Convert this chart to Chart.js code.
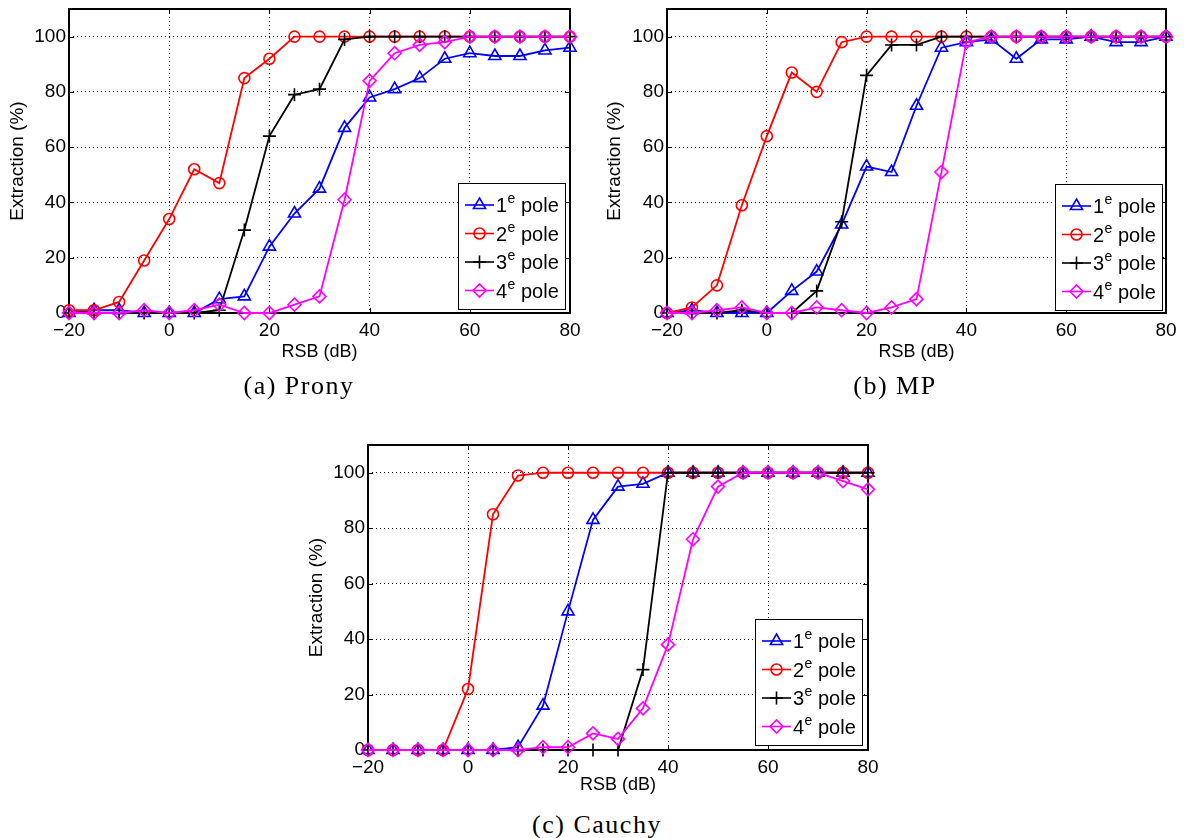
<!DOCTYPE html>
<html><head><meta charset="utf-8">
<script src="https://cdn.jsdelivr.net/npm/chart.js@4.4.0/dist/chart.umd.min.js"></script>
<style>
body{margin:0;background:#fff;width:1188px;height:838px;position:relative;overflow:hidden;font-family:"Liberation Sans",Arial,sans-serif;}
.box{position:absolute;width:590px;height:372px;}
.cap{position:absolute;font-family:"Liberation Serif",serif;font-size:26px;letter-spacing:1.5px;line-height:30px;transform:translateX(-50%);white-space:nowrap;color:#000;}
</style></head><body>
<div class="box" style="left:0;top:0"><canvas id="ca"></canvas></div>
<div class="box" style="left:597px;top:0"><canvas id="cb"></canvas></div>
<div class="box" style="left:299px;top:436px"><canvas id="cc"></canvas></div>
<div class="cap" style="left:299px;top:371px">(a) Prony</div>
<div class="cap" style="left:895px;top:371px">(b) MP</div>
<div class="cap" style="left:597px;top:810px">(c) Cauchy</div>
<script>
// ---- data ----
const rsb = [-20,-15,-10,-5,0,5,10,15,20,25,30,35,40,45,50,55,60,65,70,75,80];
const xTicks = [-20,0,20,40,60,80];
const yTicks = [0,20,40,60,80,100];
const ordinals = ['1','2','3','4'];
const supText = 'e';
const suffixText = ' pole';
const xTitle = 'RSB (dB)';
const yTitle = 'Extraction (%)';

const pronyPole1 = [0,1,1,0,0,0,5,6,24,36,45,67,78,81,85,92,94,93,93,95,96];
const pronyPole2 = [1,1,4,19,34,52,47,85,92,100,100,100,100,100,100,100,100,100,100,100,100];
const pronyPole3 = [0,0,0,0,0,0,1,30,64,79,81,99,100,100,100,100,100,100,100,100,100];
const pronyPole4 = [0,0,0,1,0,1,3,0,0,3,6,41,84,94,97,98,100,100,100,100,100];

const mpPole1 = [0,1,0,0,0,8,15,32,53,51,75,96,98,99,92,99,99,100,98,98,100];
const mpPole2 = [0,2,10,39,64,87,80,98,100,100,100,100,100,100,100,100,100,100,100,100,100];
const mpPole3 = [0,0,0,1,0,0,8,33,86,97,97,100,100,100,100,100,100,100,100,100,100];
const mpPole4 = [0,0,1,2,0,0,2,1,0,2,5,51,98,100,100,100,100,100,100,100,100];

const cauchyPole1 = [0,0,0,0,0,0,1,16,50,83,95,96,100,100,100,100,100,100,100,100,100];
const cauchyPole2 = [0,0,0,0,22,85,99,100,100,100,100,100,100,100,100,100,100,100,100,100,100];
const cauchyPole3 = [0,0,0,0,0,0,0,0,0,0,0,29,100,100,100,100,100,100,100,100,100];
const cauchyPole4 = [0,0,0,0,0,0,0,1,1,6,4,15,38,76,95,100,100,100,100,97,94];

// ---- styles ----
const colors = ['#0000ff','#ff0000','#000000','#ff00ff'];
const styles = ['triangle','circle','cross','rectRot'];
const radii = [7,5.5,6.5,6.5];

Chart.defaults.font.family = '"Liberation Sans", Arial, sans-serif';
Chart.defaults.font.size = 19;
Chart.defaults.color = '#000';

const axesPlugin = {
  id: 'matlabAxes',
  beforeDatasetsDraw(chart) {
    const {ctx, chartArea: ca, scales} = chart;
    ctx.save();
    ctx.strokeStyle = '#000';
    ctx.lineWidth = 1;
    ctx.beginPath();
    xTicks.forEach(v => {
      const x = Math.round(scales.x.getPixelForValue(v)) + 0.5;
      ctx.moveTo(x, ca.bottom); ctx.lineTo(x, ca.bottom - 5);
      ctx.moveTo(x, ca.top); ctx.lineTo(x, ca.top + 5);
    });
    yTicks.forEach(v => {
      const y = Math.round(scales.y.getPixelForValue(v)) + 0.5;
      ctx.moveTo(ca.left, y); ctx.lineTo(ca.left + 5, y);
      ctx.moveTo(ca.right, y); ctx.lineTo(ca.right - 5, y);
    });
    ctx.stroke();
    ctx.lineWidth = 2;
    ctx.strokeRect(ca.left, ca.top, ca.right - ca.left, ca.bottom - ca.top);
    ctx.restore();
  },
  afterDatasetsDraw(chart, args, opts) {
    const {ctx, chartArea: ca} = chart;
    const w = 107, h = 126;
    const x0 = Math.round(ca.right - opts.dr - w), y0 = Math.round(ca.bottom - opts.db - h);
    ctx.save();
    ctx.fillStyle = '#fff';
    ctx.fillRect(x0, y0, w, h);
    ctx.strokeStyle = '#000';
    ctx.lineWidth = 1;
    ctx.strokeRect(x0 + 0.5, y0 + 0.5, w, h);
    chart.data.datasets.forEach((ds, i) => {
      const cy = y0 + 22 + i * 28.5;
      ctx.strokeStyle = ds.borderColor;
      ctx.lineWidth = 1.6;
      ctx.beginPath(); ctx.moveTo(x0 + 7, cy); ctx.lineTo(x0 + 36, cy); ctx.stroke();
      ctx.fillStyle = 'rgba(0,0,0,0)';
      Chart.helpers.drawPoint(ctx, {pointStyle: ds.pointStyle, rotation: 0, radius: ds.pointRadius, borderWidth: 1.6}, x0 + 21.5, cy);
      ctx.fillStyle = '#000';
      ctx.textBaseline = 'alphabetic';
      ctx.textAlign = 'left';
      ctx.font = '20px "Liberation Sans", Arial, sans-serif';
      let tx = x0 + 38;
      ctx.fillText(ordinals[i], tx, cy + 7);
      tx += ctx.measureText(ordinals[i]).width + 0.5;
      ctx.font = '14px "Liberation Sans", Arial, sans-serif';
      ctx.fillText(supText, tx, cy - 2);
      tx += ctx.measureText(supText).width;
      ctx.font = '20px "Liberation Sans", Arial, sans-serif';
      ctx.fillText(suffixText, tx, cy + 7);
    });
    ctx.restore();
  }
};

function makeChart(id, series, cfg) {
  const datasets = series.map((s, i) => ({
    label: ordinals[i] + supText + suffixText,
    data: rsb.map((x, j) => ({x: x, y: s[j]})),
    borderColor: colors[i],
    backgroundColor: 'rgba(0,0,0,0)',
    pointBackgroundColor: 'rgba(0,0,0,0)',
    pointBorderColor: colors[i],
    pointStyle: styles[i],
    pointRadius: radii[i],
    pointBorderWidth: 1.6,
    borderWidth: 1.8,
    tension: 0,
    clip: false,
    order: 3 - i
  }));
  return new Chart(document.getElementById(id), {
    type: 'line',
    data: {datasets},
    plugins: [axesPlugin],
    options: {
      responsive: true,
      maintainAspectRatio: false,
      animation: false,
      events: [],
      layout: {padding: {left: 0, top: cfg.top, right: cfg.right, bottom: 0}},
      plugins: {legend: {display: false}, tooltip: {enabled: false}, matlabAxes: {dr: cfg.dr, db: cfg.db}},
      scales: {
        x: {
          type: 'linear', min: -20, max: 80,
          afterBuildTicks: s => { s.ticks = xTicks.map(v => ({value: v})); },
          afterFit: s => { s.height = 372 - cfg.bottom; s.paddingLeft = 0; s.paddingRight = 0; s.paddingTop = 0; s.paddingBottom = 0; },
          ticks: {padding: 6, maxRotation: 0, autoSkip: false, callback: v => String(v).replace('-', '\u2212')},
          grid: {color: '#000', lineWidth: 1, drawTicks: false},
          border: {display: false, dash: [1, 3]},
          title: {display: true, text: xTitle, font: {size: 18}, padding: {top: 0, bottom: cfg.xtp}}
        },
        y: {
          type: 'linear', min: 0, max: 110,
          afterBuildTicks: s => { s.ticks = yTicks.map(v => ({value: v})); },
          afterFit: s => { s.width = cfg.left; s.paddingLeft = 0; s.paddingRight = 0; s.paddingTop = 0; s.paddingBottom = 0; },
          ticks: {padding: 3},
          grid: {color: '#000', lineWidth: 1, drawTicks: false},
          border: {display: false, dash: [1, 3]},
          title: {display: true, text: yTitle, font: {size: 19}, padding: {top: 6, bottom: 0}}
        }
      }
    }
  });
}

makeChart('ca', [pronyPole1, pronyPole2, pronyPole3, pronyPole4], {top: 9, right: 20, bottom: 313, left: 69, dr: 5, db: 4, xtp: 9});
makeChart('cb', [mpPole1, mpPole2, mpPole3, mpPole4], {top: 9, right: 21, bottom: 313, left: 70, dr: 4, db: 3, xtp: 9});
makeChart('cc', [cauchyPole1, cauchyPole2, cauchyPole3, cauchyPole4], {top: 9, right: 21, bottom: 314, left: 69, dr: 6, db: 5, xtp: 12});
</script>
</body></html>
